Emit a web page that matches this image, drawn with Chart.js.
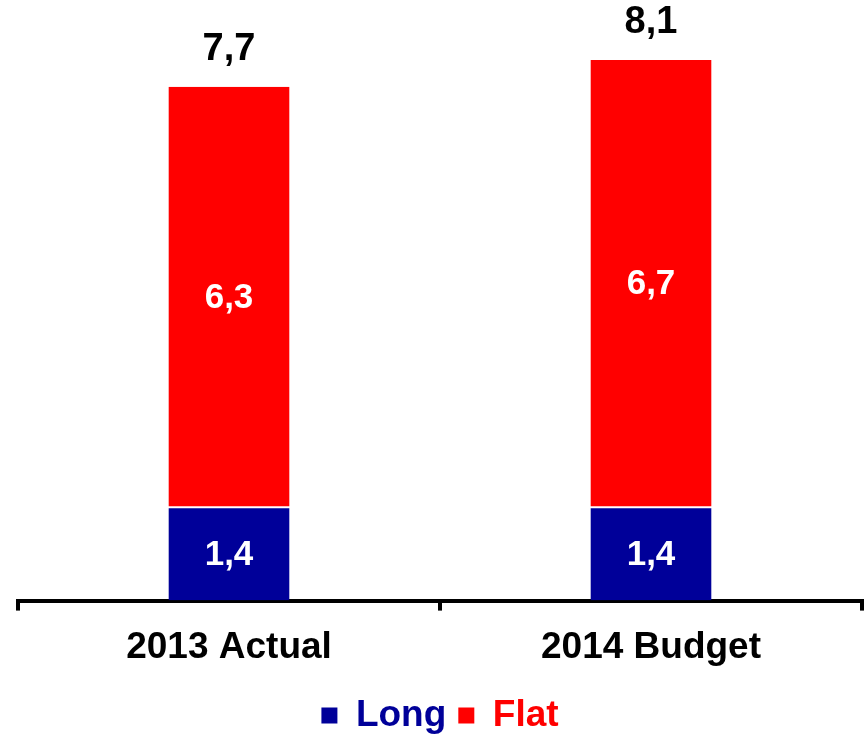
<!DOCTYPE html>
<html>
<head>
<meta charset="utf-8">
<script src="https://cdn.jsdelivr.net/npm/chart.js@4.4.1/dist/chart.umd.min.js"></script>
<style>
  html, body { margin: 0; padding: 0; background: #fff; overflow: hidden; }
  #wrap { width: 867px; height: 744px; }
</style>
</head>
<body>
<div id="wrap"><canvas id="c"></canvas></div>
<script>
// ── Данные ─────────────────────────────────────────
const categories = ['2013 Actual', '2014 Budget'];
const longValues = [1.4, 1.4];
const flatValues = [6.3, 6.7];
const totals     = [7.7, 8.1];
const seriesNames = ['Long', 'Flat'];
const seriesColors = ['#000099', '#FF0000'];

const FONT = "'Liberation Sans', Arial, sans-serif";
const fmt = v => v.toFixed(1).replace('.', ',');

// Подписи значений внутри столбиков и итоги сверху
const labelsPlugin = {
  id: 'valueLabels',
  afterDatasetsDraw(chart) {
    const ctx = chart.ctx;
    ctx.save();
    ctx.textAlign = 'center';
    ctx.textBaseline = 'middle';
    ctx.font = `bold 35px ${FONT}`;
    ctx.fillStyle = '#fff';
    chart.data.datasets.forEach((ds, di) => {
      const meta = chart.getDatasetMeta(di);
      meta.data.forEach((bar, i) => {
        const mid = (bar.y + bar.base) / 2;
        ctx.fillText(fmt(ds.data[i]), bar.x, mid + 1);
      });
    });
    // итоги
    const topMeta = chart.getDatasetMeta(chart.data.datasets.length - 1);
    ctx.fillStyle = '#000';
    ctx.font = `bold 38px ${FONT}`;
    ctx.textBaseline = 'alphabetic';
    topMeta.data.forEach((bar, i) => {
      ctx.fillText(fmt(totals[i]), bar.x, bar.y - 27);
    });
    ctx.restore();
  }
};

new Chart(document.getElementById('c'), {
  type: 'bar',
  data: {
    labels: categories,
    datasets: [
      {
        label: seriesNames[0],
        data: longValues,
        backgroundColor: seriesColors[0],
        borderColor: '#fff',
        borderWidth: { top: 1, left: 0, right: 0, bottom: 0 },
        borderSkipped: false,
        categoryPercentage: 1,
        barPercentage: 0.287,
      },
      {
        label: seriesNames[1],
        data: flatValues,
        backgroundColor: seriesColors[1],
        borderColor: '#fff',
        borderWidth: { top: 0, left: 0, right: 0, bottom: 1 },
        borderSkipped: false,
        categoryPercentage: 1,
        barPercentage: 0.287,
      },
    ],
  },
  options: {
    responsive: true,
    maintainAspectRatio: false,
    animation: false,
    layout: { padding: { left: 18, right: 5, top: 0, bottom: 0 } },
    plugins: {
      tooltip: { enabled: false },
      legend: {
        position: 'bottom',
        labels: {
          boxWidth: 16,
          boxHeight: 16,
          padding: 12,
          font: { family: FONT, size: 37, weight: 'bold' },
          generateLabels(chart) {
            return chart.data.datasets.map((ds, i) => ({
              text: ds.label,
              fillStyle: ds.backgroundColor,
              strokeStyle: ds.backgroundColor,
              lineWidth: 0,
              fontColor: ds.backgroundColor,
              datasetIndex: i,
              hidden: false,
            }));
          },
        },
      },
    },
    scales: {
      x: {
        stacked: true,
        grid: {
          display: true,
          drawOnChartArea: false,
          drawTicks: true,
          tickLength: 10,
          lineWidth: 4,
          color: '#000',
          offset: true,
        },
        border: { display: true, color: '#000', width: 4 },
        ticks: {
          color: '#000',
          padding: 15,
          font: { family: FONT, size: 37, weight: 'bold' },
        },
      },
      y: {
        stacked: true,
        display: false,
        min: 0,
        max: 9,
      },
    },
  },
  plugins: [labelsPlugin],
});
</script>
</body>
</html>
